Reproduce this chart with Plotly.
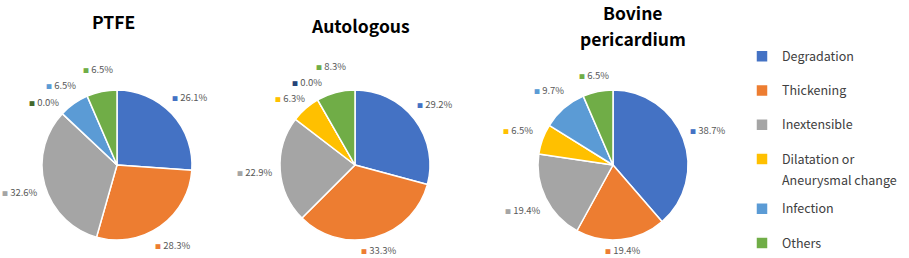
import numpy as np
import plotly.graph_objects as go

# ---------------- data ----------------
categories = ["Degradation", "Thickening", "Inextensible",
              "Dilatation or Aneurysmal change", "Infection", "Others"]
legend_lines = [["Degradation"], ["Thickening"], ["Inextensible"],
                ["Dilatation or", "Aneurysmal change"], ["Infection"], ["Others"]]
group_title_lines = [["PTFE"], ["Autologous"], ["Bovine", "pericardium"]]
ptfe = [26.1, 28.3, 32.6, 0.0, 6.5, 6.5]
autologous = [29.2, 33.3, 22.9, 6.3, 0.0, 8.3]
bovine = [38.7, 19.4, 19.4, 6.5, 9.7, 6.5]
series = [ptfe, autologous, bovine]

# ---------------- style ----------------
W, H = 909, 258
FONT = "Noto Sans CJK JP"
colors = ["#4472C4", "#ED7D31", "#A5A5A5", "#FFC000", "#5B9BD5", "#70AD47"]
zero_marker = {0: "#43682B", 1: "#264478"}  # marker colour of the 0.0% labels
centers_x = [117, 355, 613]
center_y = 165
radius = 75
title_x = [114, 360, 633]
title_y0 = [21, 26, 12.8]   # centre of first title line (px from top)
title_step = 25.5           # spacing of title lines
TITLE_SIZE = 17.5
LBL_W, LBL_H = 38, 16       # approximate data-label box size (px)
LEG_X = 742                 # legend left edge (px)
WRAP_TEXT_X = 780           # x of the continuation line of the wrapped entry
LEG_SIZE = 12.5
LEG_COLOR = "#404040"
WRAP_LINE_GAP = 21          # spacing of the wrapped legend line (px)
WRAP_FIRST_Y = 158          # y of the first line of the wrapped legend entry

# legend labels: first line only; a trailing blank line per extra line of
# text (and one for spacing) keeps the roomy entry layout of the original
pie_labels = []
wrapped = []
for idx, lines in enumerate(legend_lines):
    lab = f"<span style='font-size:{LEG_SIZE}px'>{lines[0]}</span>"
    lab += "<br>\u00a0" * (len(lines) - 1)
    if idx < len(legend_lines) - 1:
        lab += "<br>\u00a0"
    pie_labels.append(lab)
    for li, extra in enumerate(lines[1:], start=1):
        wrapped.append((extra, li))


def separate(lx, ly):
    """Push overlapping labels apart vertically."""
    lx, ly = lx.copy(), ly.copy()
    n = len(lx)
    for _ in range(300):
        moved = False
        for j in range(n):
            for k in range(j + 1, n):
                dx, dy = lx[k] - lx[j], ly[k] - ly[j]
                if abs(dx) < LBL_W and abs(dy) < LBL_H:
                    need = (LBL_H - abs(dy)) / 2 + 0.1
                    sgn = 1 if dy >= 0 else -1
                    ly[k] += sgn * need
                    ly[j] -= sgn * need
                    moved = True
        if not moved:
            break
    return lx, ly


fig = go.Figure()
annotations = []
for i, vals in enumerate(series):
    cx = centers_x[i]
    fig.add_trace(go.Pie(
        values=vals,
        labels=pie_labels,
        marker=dict(colors=colors, line=dict(color="white", width=1.5)),
        domain=dict(x=[(cx - radius) / W, (cx + radius) / W],
                    y=[1 - (center_y + radius) / H, 1 - (center_y - radius) / H]),
        sort=False,
        direction="clockwise",
        rotation=0,
        textinfo="none",
        hoverinfo="value",
        showlegend=(i == 2),
    ))

    # data labels placed outside the slices along their mid angle
    v = np.array(vals, dtype=float)
    mid = (np.cumsum(v) - v / 2) / v.sum() * 2 * np.pi
    s, c = np.sin(mid), np.cos(mid)
    d = radius + 8 + 17 * np.abs(s) + 6 * np.abs(c)
    lx = cx + d * s
    ly = np.minimum(center_y - d * c, 250)
    lx, ly = separate(lx, ly)
    for k in range(len(vals)):
        mc = colors[k]
        if vals[k] == 0 and i in zero_marker:
            mc = zero_marker[i]
        annotations.append(dict(
            x=lx[k] / W, y=1 - ly[k] / H, xref="paper", yref="paper",
            xanchor="center", yanchor="middle", showarrow=False,
            text=f"<span style='color:{mc};font-size:6px'>■</span> {vals[k]:.1f}%",
            font=dict(family=FONT, size=9.5, color="#595959"),
        ))

    for li, line in enumerate(group_title_lines[i]):
        ty = title_y0[i] + li * title_step
        annotations.append(dict(
            x=title_x[i] / W, y=1 - ty / H, xref="paper", yref="paper",
            xanchor="center", yanchor="middle", showarrow=False,
            text=line,
            font=dict(family=FONT, size=TITLE_SIZE, color="#000000", weight="bold"),
        ))

# continuation line(s) of the wrapped legend entry
for text, li in wrapped:
    annotations.append(dict(
        x=WRAP_TEXT_X / W, y=1 - (WRAP_FIRST_Y + li * WRAP_LINE_GAP) / H,
        xref="paper", yref="paper", xanchor="left", yanchor="middle",
        showarrow=False, text=text,
        font=dict(family=FONT, size=LEG_SIZE, color=LEG_COLOR),
    ))

fig.update_layout(
    width=W, height=H,
    margin=dict(l=0, r=0, t=0, b=0, autoexpand=False),
    paper_bgcolor="white", plot_bgcolor="white",
    font=dict(family=FONT),
    annotations=annotations,
    legend=dict(
        x=LEG_X / W, y=0, xanchor="left", yanchor="bottom",
        font=dict(family=FONT, size=12, color=LEG_COLOR),
        valign="top", bgcolor="rgba(0,0,0,0)",
    ),
)

fig.write_html("out.html")
